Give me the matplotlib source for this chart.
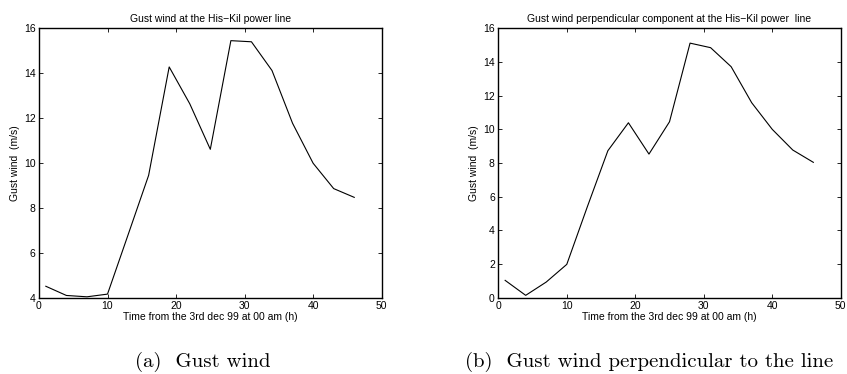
import matplotlib
matplotlib.use("Agg")
import matplotlib.pyplot as plt

# Hours after 3 Dec 1999, 00:00
hours = [1, 4, 7, 10, 13, 16, 19, 22, 25, 28, 31, 34, 37, 40, 43, 46]

# Gust wind speed (m/s)
gust = [4.51, 4.10, 4.04, 4.16, 6.8, 9.45, 14.28, 12.64, 10.61,
        15.45, 15.40, 14.12, 11.77, 9.99, 8.86, 8.47]

# Component perpendicular to the line (m/s)
gust_perp = [1.03, 0.14, 0.93, 1.98, 5.4, 8.73, 10.39, 8.53, 10.45,
             15.12, 14.85, 13.72, 11.58, 10.0, 8.77, 8.04]

xticks = [0, 10, 20, 30, 40, 50]
yticks_a = [4, 6, 8, 10, 12, 14, 16]
yticks_b = [0, 2, 4, 6, 8, 10, 12, 14, 16]

titles = ["Gust wind at the His\u2212Kil power line",
          "Gust wind perpendicular component at the His\u2212Kil power  line"]
captions = ["(a)  Gust wind", "(b)  Gust wind perpendicular to the line"]
xlabel = "Time from the 3rd dec 99 at 00 am (h)"
ylabel = "Gust wind  (m/s)"

plt.rcParams["font.family"] = ["Liberation Sans", "DejaVu Sans"]
fs = 7.5

fig = plt.figure(figsize=(8.47, 3.74), dpi=100)
ax_a = fig.add_axes([0.0460, 0.2040, 0.4046, 0.7203])
ax_b = fig.add_axes([0.5883, 0.2040, 0.4043, 0.7203])

panels = [(ax_a, gust, (4, 16), yticks_a), (ax_b, gust_perp, (0, 16), yticks_b)]
for i, (ax, vals, ylim, yt) in enumerate(panels):
    ax.plot(hours, vals, color="black", lw=0.8)
    ax.set_xlim(0, 50)
    ax.set_ylim(*ylim)
    ax.set_xticks(xticks)
    ax.set_yticks(yt)
    ax.tick_params(direction="in", length=3, width=0.6, labelsize=fs,
                   top=True, right=True, pad=2.5)
    for s in ax.spines.values():
        s.set_linewidth(1.0)
    ax.set_title(titles[i], fontsize=fs, pad=4.5)
    ax.set_xlabel(xlabel, fontsize=fs, labelpad=0.8)
    ax.set_ylabel(ylabel, fontsize=fs, labelpad=3)

fig.text(0.2391, 1 - 361.5 / 374, captions[0], family="cmr10",
         fontsize=15, ha="center", va="center")
fig.text(465 / 847, 1 - 361.5 / 374, captions[1], family="cmr10",
         fontsize=15, ha="left", va="center")

fig.savefig("out.png", dpi=100)
